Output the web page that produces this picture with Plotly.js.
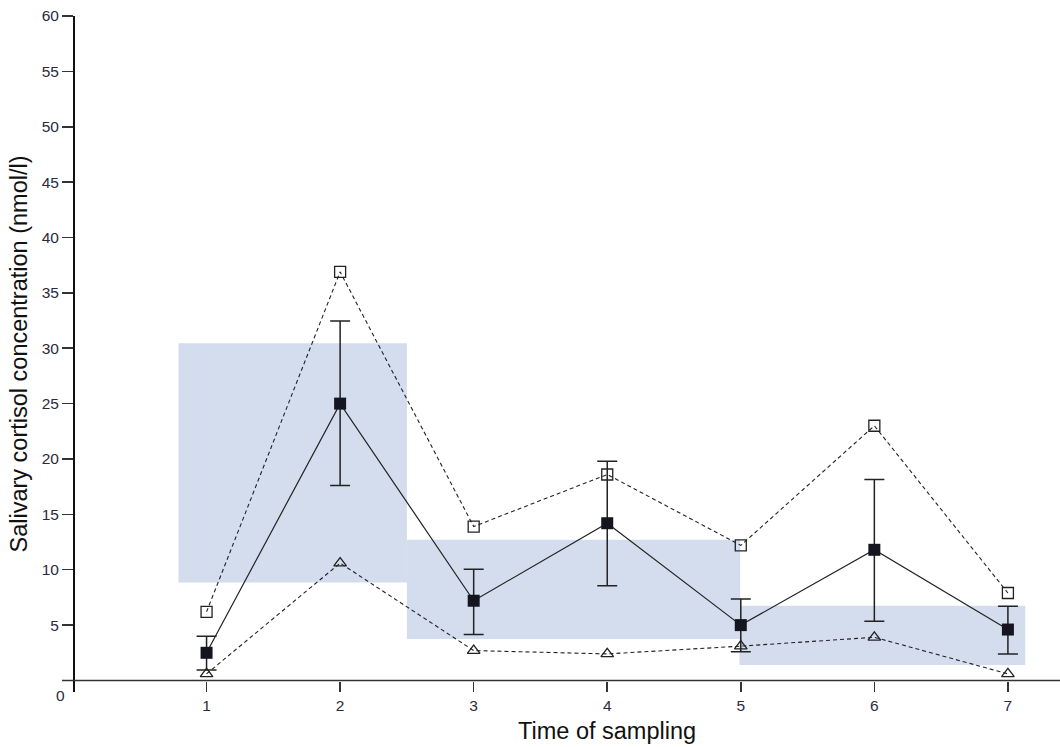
<!DOCTYPE html>
<html>
<head>
<meta charset="utf-8">
<script src="https://cdn.plot.ly/plotly-3.0.1.min.js"></script>
<style>html,body{margin:0;padding:0;background:#fff}#chart{width:1060px;height:747px}</style>
</head>
<body>
<div id="chart"></div>
<script>
// Time points
var times = [1, 2, 3, 4, 5, 6, 7];
// Mean salivary cortisol (filled squares) with error bars
var meanVals = [2.5, 25.0, 7.2, 14.2, 5.0, 11.8, 4.6];
var errUp = [1.5, 7.45, 2.85, 5.6, 2.35, 6.35, 2.1];
var errDown = [1.55, 7.4, 3.05, 5.65, 2.4, 6.45, 2.2];
// Maximum (open squares)
var maxVals = [6.2, 36.9, 13.9, 18.6, 12.2, 23.0, 7.9];
// Minimum (open triangles)
var minVals = [0.6, 10.6, 2.7, 2.4, 3.1, 3.9, 0.6];
// Reference bands (shaded rectangles)
var bandX0 = [0.79, 2.5, 4.99];
var bandX1 = [2.5, 4.995, 7.13];
var bandLow = [8.85, 3.75, 1.4];
var bandHigh = [30.45, 12.7, 6.75];
// Tick labels
var yTicks = [5, 10, 15, 20, 25, 30, 35, 40, 45, 50, 55, 60];
var xTicks = [1, 2, 3, 4, 5, 6, 7];

var fontFam = 'Liberation Sans, Arial, sans-serif';
var tickColor = '#2b2b3b';

var traces = [
  {
    x: times, y: maxVals, type: 'scatter', mode: 'lines+markers',
    line: {color: '#222', width: 1.1, dash: '4px,3px'},
    marker: {symbol: 'square-open', size: 11, color: '#222', line: {width: 1.3}},
    hoverinfo: 'skip', cliponaxis: false
  },
  {
    x: times, y: minVals, type: 'scatter', mode: 'lines+markers',
    line: {color: '#222', width: 1.1, dash: '4px,3px'},
    marker: {symbol: 'triangle-up-open', size: 11, color: '#222', line: {width: 1.3}},
    hoverinfo: 'skip', cliponaxis: false
  },
  {
    x: times, y: meanVals, type: 'scatter', mode: 'lines+markers',
    line: {color: '#222', width: 1.2},
    marker: {symbol: 'square', size: 12, color: '#151520'},
    error_y: {type: 'data', symmetric: false, array: errUp, arrayminus: errDown,
              color: '#222', thickness: 1.5, width: 10},
    hoverinfo: 'skip', cliponaxis: false
  }
];

var shapes = [];
for (var i = 0; i < bandX0.length; i++) {
  shapes.push({type: 'rect', xref: 'x', yref: 'y', x0: bandX0[i], x1: bandX1[i],
               y0: bandLow[i], y1: bandHigh[i], fillcolor: '#d3ddee', line: {width: 0}, layer: 'below'});
}
// x-axis line at y = 0, extending slightly left of the y axis
shapes.push({type: 'line', xref: 'paper', yref: 'y', x0: -11/987, x1: 1, y0: 0, y1: 0,
             line: {color: '#333', width: 1.5}});

var layout = {
  width: 1060, height: 747,
  margin: {l: 73, r: 0, t: 16, b: 55},
  paper_bgcolor: '#fff', plot_bgcolor: 'rgba(0,0,0,0)',
  showlegend: false,
  xaxis: {
    range: [0, 7.39], anchor: 'free', position: 11/676,
    tickvals: xTicks, ticktext: xTicks.map(String),
    ticks: 'outside', ticklen: 10, tickwidth: 1.5, tickcolor: '#333',
    showline: false, showgrid: false, zeroline: false,
    tickfont: {family: fontFam, size: 15.5, color: tickColor}
  },
  yaxis: {
    range: [-1.04, 60], anchor: 'free', position: 0,
    tickvals: yTicks, ticktext: yTicks.map(String),
    ticks: 'outside', ticklen: 11, tickwidth: 1.5, tickcolor: '#333',
    showline: true, linecolor: '#111', linewidth: 1.5,
    showgrid: false, zeroline: false,
    tickfont: {family: fontFam, size: 15.5, color: tickColor},
    title: {text: 'Salivary cortisol concentration (nmol/l)', standoff: 6,
            font: {family: fontFam, size: 23.5, color: '#111'}}
  },
  shapes: shapes,
  annotations: [
    {xref: 'paper', yref: 'y', x: -13/987, y: 0, yshift: -15, text: '0', showarrow: false,
     xanchor: 'center', yanchor: 'middle', font: {family: fontFam, size: 15.5, color: tickColor}},
    {xref: 'paper', yref: 'paper', x: (607 - 73) / 987, y: 0, yshift: -39, text: 'Time of sampling',
     showarrow: false, xanchor: 'center', yanchor: 'middle', font: {family: fontFam, size: 23.5, color: '#111'}}
  ]
};

Plotly.newPlot('chart', traces, layout, {displayModeBar: false, staticPlot: true});
</script>
</body>
</html>
